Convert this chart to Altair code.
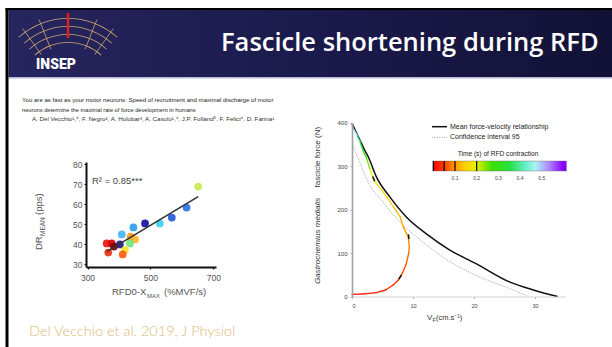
import altair as alt
import pandas as pd
import math

W, H = 612, 347

# ---------------- data ----------------
scatter_rfd = [652, 615, 568, 530, 483, 446, 409, 437, 451, 435, 403, 361, 377, 384, 366, 419, 412]
scatter_dr = [68.7, 58.2, 53.2, 50.3, 50.3, 48.3, 44.8, 43.7, 42.3, 40.3, 39.8, 40.3, 40.3, 38.7, 35.7, 37.0, 34.8]
scatter_colors = ["#c6e84c", "#2a6fe6", "#1f55d8", "#38d2f2", "#0f0f9c", "#2a9cec", "#40b4f4",
                  "#ff9a1a", "#ffb42a", "#6ee27a", "#18188e", "#ee1010", "#d40000", "#7a0000",
                  "#f02a0a", "#ffe024", "#ff5a10"]
reg_rfd = [361, 652]
reg_dr = [36.2, 63.7]
left_x_ticks = [300, 500, 700]
left_y_ticks = [30, 40, 50, 60, 70, 80]

mean_v = [0, 1.0, 2.1, 2.7, 4.0, 6.2, 8.9, 12.2, 15.9, 20.4, 25.9, 30.0, 33.7]
mean_F = [398, 368, 336, 320, 275, 229, 183, 144, 108, 75, 33, 14, 0]
ci_v = [0, 1.0, 2.9, 4.9, 6.5, 8.4, 10.6, 15.4, 20.4, 25.9, 28.6]
ci_F = [352, 318, 256, 221, 192, 164, 137, 86, 48, 18, 2]
rfd_v = [0, 2.0, 4.0, 5.5, 6.8, 7.6, 8.3, 8.9, 9.3, 9.4, 9.2, 8.4, 7.9, 6.8, 5.7, 4.0, 3.5, 2.9, 2.4, 1.8, 1.3, 0.8, 0.2, 0]
rfd_F = [5, 6, 9, 15, 27, 38, 55, 75, 100, 115, 137, 160, 183, 206, 229, 260, 271, 294, 318, 336, 356, 371, 386, 397]
rfd_t = [0, 0.01, 0.02, 0.03, 0.04, 0.05, 0.06, 0.07, 0.08, 0.09, 0.10, 0.115, 0.13, 0.15, 0.165, 0.19, 0.20,
         0.25, 0.29, 0.34, 0.40, 0.47, 0.55, 0.58]
mark_v1 = [7.7, 9.35, 3.7]
mark_F1 = [40, 132, 265]
mark_v2 = [8.1, 9.25, 3.4]
mark_F2 = [49, 143, 276]
right_x_ticks = [0, 10, 20, 30]
right_y_ticks = [0, 100, 200, 300, 400]

c_dom = [0, 0.05, 0.1, 0.15, 0.2, 0.27, 0.35, 0.42, 0.47, 0.53, 0.6]
c_rng = ["#ff0000", "#ff3c00", "#ff9a00", "#ffd200", "#e6f000", "#3ee000", "#22e040",
         "#60eec0", "#a8f4f4", "#b08cff", "#8a00ff"]
cb_ticks = [0, 0.05, 0.1, 0.2]
cb_labels = [0.1, 0.2, 0.3, 0.4, 0.5]
cb_end = 0.614

one = pd.DataFrame({"k": [0]})
FONT = "Liberation Sans"


def txt(text, x, y, size, color="#222", align="left", baseline="middle", font=FONT,
        weight="normal", style="normal", angle=None):
    kw = dict(text=text, fontSize=size, color=color, align=align, baseline=baseline,
              font=font, fontWeight=weight, fontStyle=style)
    if angle is not None:
        kw["angle"] = angle
    return alt.Chart(one).mark_text(**kw).encode(x=alt.value(x), y=alt.value(y))


def rect(x, x2, y, y2, fill):
    return alt.Chart(one).mark_rect(fill=fill, strokeWidth=0).encode(
        x=alt.value(x), x2=alt.value(x2), y=alt.value(y), y2=alt.value(y2))


def seg(x, x2, y, y2, color, width, dash=None):
    kw = dict(color=color, strokeWidth=width)
    if dash:
        kw["strokeDash"] = dash
    return alt.Chart(one).mark_rule(**kw).encode(
        x=alt.value(x), x2=alt.value(x2), y=alt.value(y), y2=alt.value(y2))


header_grad = alt.LinearGradient(
    gradient="linear",
    stops=[alt.GradientStop(color="#27255e", offset=0),
           alt.GradientStop(color="#1b1a4c", offset=0.5),
           alt.GradientStop(color="#121236", offset=1)],
    x1=0, x2=1, y1=0, y2=0)

decor = [
    rect(5.5, W, 8, 10, "#000000"),
    rect(8.5, W, 10, 77, header_grad),
    rect(8.5, W, 77, 78.5, "#b8b8d8"),
    rect(5.5, 8.5, 8, H, "#000000"),
]
for r in [50, 58, 66, 74]:
    decor.append(alt.Chart(one).mark_arc(color="#c9a873").encode(
        x=alt.value(68), y=alt.value(92), theta=alt.value(5.55), theta2=alt.value(7.016),
        radius=alt.value(r), radius2=alt.value(r - 0.8)))
for a in [-0.62, -0.38, 0.38, 0.62]:
    decor.append(seg(68 + 46 * math.sin(a), 68 + 78 * math.sin(a),
                     92 - 46 * math.cos(a), 92 - 78 * math.cos(a), "#c9a873", 0.8))
decor.append(seg(68, 68, 13, 38, "#e02020", 2.5))
decor.append(txt("INSEP", 56, 65, 14, color="#ffffff", align="center", font="Roboto", weight=900))
decor.append(txt("Fascicle shortening during RFD", 221, 51, 25.5, color="#ffffff",
                 baseline="alphabetic", font="Open Sans", weight=600))

decor += [
    txt("You are as fast as your motor neurons: Speed of recruitment and maximal discharge of motor",
        22, 100, 6.1, color="#222"),
    txt("neurons determine the maximal rate of force development in humans", 22, 110, 5.7, color="#222"),
    txt("A. Del Vecchio¹,⁴, F. Negro², A. Holobar³, A. Casolo¹,⁴, J.P. Folland⁵, F. Felici⁴, D. Farina¹",
        32, 119, 6.2, color="#333"),
    txt("Del Vecchio et al. 2019, J Physiol", 29, 336, 14.5, color="#d9bb76",
        baseline="alphabetic", font="Lato", weight=300),
]

decor += [
    txt("R² = 0.85***", 92, 181, 9.5, color="#444"),
    txt("RFD0-X", 112, 295, 9.5, color="#555", baseline="alphabetic"),
    txt("MAX", 147, 297.5, 6, color="#555", baseline="alphabetic"),
    txt("(%MVF/s)", 164, 295, 9.5, color="#555", baseline="alphabetic"),
    txt("DR", 39, 250, 9.5, color="#555", angle=270),
    txt("MEAN", 43, 236, 6.5, color="#555", angle=270),
    txt("(pps)", 39, 215, 9.5, color="#555", angle=270),
]

decor += [
    txt("V", 427, 320, 8, color="#333", baseline="alphabetic"),
    txt("F", 432.5, 322, 5.5, color="#333", baseline="alphabetic"),
    txt("(cm.s⁻¹)", 436, 320, 7.5, color="#333", baseline="alphabetic"),
    txt("Gastrocnemius medialis", 318, 284, 8.1, color="#333", angle=270, style="italic"),
    txt("fascicle force (N)", 318, 187.5, 8.1, color="#333", angle=270),
    seg(432, 447, 126.7, 126.7, "#111111", 1.5),
    txt("Mean force-velocity relationship", 450, 126.7, 7, color="#222"),
    seg(432, 447, 137.3, 137.3, "#9a9a9a", 0.9, dash=[1.2, 1.2]),
    txt("Confidence interval 95", 450, 137.3, 7, color="#222"),
    txt("Time (s) of RFD contraction", 498, 153.5, 6.6, color="#222", align="center"),
]

# ---------------- left scatter ----------------
xs = alt.Scale(domain=[295.2, 708.6], range=[86, 216], nice=False, zero=False)
ys = alt.Scale(domain=[28.5, 81], range=[267, 162], nice=False, zero=False)
ax_common = dict(title=None, grid=False, domainColor="#111", domainWidth=2, tickColor="#111", zindex=1,
                 tickSize=2, tickWidth=1.2, labelFont=FONT, labelFontSize=8.5, labelColor="#555")
lx_axis = alt.Axis(values=left_x_ticks, orient="bottom", offset=-80, labelPadding=4.5, **ax_common)
ly_axis = alt.Axis(values=left_y_ticks, orient="left", offset=-86, labelPadding=2, **ax_common)
LX = dict(scale=xs, axis=lx_axis)
LY = dict(scale=ys, axis=ly_axis)

sc = pd.DataFrame({"rfd": scatter_rfd, "dr": scatter_dr, "c": scatter_colors})
pts = alt.Chart(sc).mark_circle(size=60, opacity=0.9).encode(
    x=alt.X("rfd:Q", **LX), y=alt.Y("dr:Q", **LY), color=alt.Color("c:N", scale=None))
reg = alt.Chart(pd.DataFrame({"rfd": reg_rfd, "dr": reg_dr})).mark_line(
    color="#333", strokeWidth=1.6).encode(x=alt.X("rfd:Q", **LX), y=alt.Y("dr:Q", **LY))
left = alt.layer(pts, reg)

# ---------------- right force-velocity ----------------
xr = alt.Scale(domain=[0, 35], range=[352, 565.5], nice=False, zero=False)
yr = alt.Scale(domain=[0, 400], range=[296.5, 122.5], nice=False, zero=False)
axr = dict(title=None, grid=False, tickColor="#999", tickSize=2, tickWidth=0.8, zindex=1,
           labelFont=FONT, labelColor="#444")
rx_axis = alt.Axis(values=right_x_ticks, orient="bottom", offset=-50.5, domainColor="#c8c8c8",
                   domainWidth=0.8, labelFontSize=5.5, labelPadding=4.5, **axr)
ry_axis = alt.Axis(values=right_y_ticks, orient="left", offset=-352, domainColor="#a0a0a0",
                   domainWidth=1.6, labelFontSize=6, labelPadding=3, **axr)
RX = dict(scale=xr, axis=rx_axis)
RY = dict(scale=yr, axis=ry_axis)

mean_line = alt.Chart(pd.DataFrame({"v": mean_v, "F": mean_F})).mark_line(
    color="#111", strokeWidth=1.5, interpolate="monotone").encode(
    x=alt.X("v:Q", **RX), y=alt.Y("F:Q", **RY))
ci_line = alt.Chart(pd.DataFrame({"v": ci_v, "F": ci_F})).mark_line(
    color="#a0a0a0", strokeWidth=0.9, strokeDash=[1.2, 1.2], interpolate="monotone").encode(
    x=alt.X("v:Q", **RX), y=alt.Y("F:Q", **RY))

rd = pd.DataFrame({"v": rfd_v, "F": rfd_F, "t": rfd_t})
rd["v2"] = rd["v"].shift(-1)
rd["F2"] = rd["F"].shift(-1)
rd = rd.dropna()
rfd_curve = alt.Chart(rd).mark_rule(strokeWidth=1.4, strokeCap="round").encode(
    x=alt.X("v:Q", **RX), y=alt.Y("F:Q", **RY), x2="v2:Q", y2="F2:Q",
    color=alt.Color("t:Q", scale=alt.Scale(domain=c_dom, range=c_rng), legend=None),
)
marks = alt.Chart(pd.DataFrame({"v": mark_v1, "F": mark_F1, "v2": mark_v2, "F2": mark_F2})).mark_rule(
    color="#111", strokeWidth=1.5).encode(
    x=alt.X("v:Q", **RX), y=alt.Y("F:Q", **RY), x2="v2:Q", y2="F2:Q")
right = alt.layer(ci_line, mean_line, rfd_curve, marks)

# ---------------- colour bar ----------------
cbs = alt.Scale(domain=[0, 0.6], range=[433.3, 563.4], nice=False, zero=False)
bar_grad = alt.LinearGradient(
    gradient="linear",
    stops=[alt.GradientStop(color=c, offset=d / cb_end) for d, c in zip(c_dom, c_rng)]
    + [alt.GradientStop(color=c_rng[-1], offset=1)],
    x1=0, x2=1, y1=0, y2=0)
cb_bar = alt.Chart(pd.DataFrame({"t0": [0], "t1": [cb_end]})).mark_rect(
    fill=bar_grad, stroke="#666", strokeWidth=0.4).encode(
    x=alt.X("t0:Q", scale=cbs, axis=None), x2="t1:Q", y=alt.value(161), y2=alt.value(171))
cb_tk = alt.Chart(pd.DataFrame({"t": cb_ticks})).mark_rule(color="#000", strokeWidth=1.2).encode(
    x=alt.X("t:Q", scale=cbs, axis=None), y=alt.value(161), y2=alt.value(171))
cb_lb = alt.Chart(pd.DataFrame({"t": cb_labels, "lab": [str(v) for v in cb_labels]})).mark_text(
    fontSize=5, color="#444", font=FONT).encode(
    x=alt.X("t:Q", scale=cbs, axis=None), y=alt.value(178), text="lab:N")
cbar = alt.layer(cb_bar, cb_tk, cb_lb)

chart = alt.layer(*decor, left, right, cbar).resolve_scale(
    x="independent", y="independent", color="independent"
).properties(
    width=W, height=H, autosize=alt.AutoSizeParams(type="none"), padding=0, background="#ffffff"
).configure_view(strokeWidth=0)

chart.save("out.html", embed_options={"renderer": "svg", "actions": False})
